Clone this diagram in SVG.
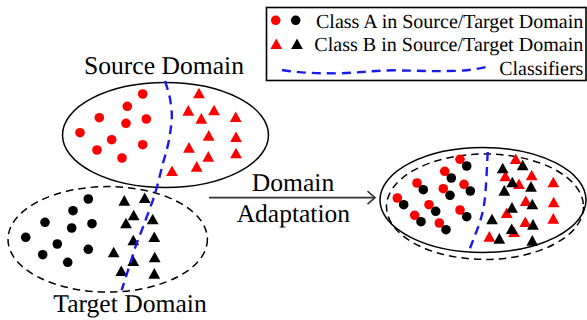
<svg xmlns="http://www.w3.org/2000/svg" width="587" height="320" viewBox="0 0 587 320">
<style>
text{font-family:"Liberation Serif","Times New Roman",serif;fill:#000;text-rendering:geometricPrecision}
.big{font-size:25.5px}.leg{font-size:20px}
.ell{fill:none;stroke:#000;stroke-width:1.5}
.dash{stroke-dasharray:7.5 5}
.clf{fill:none;stroke:#1a1aee;stroke-width:2.4;stroke-dasharray:9 6}
.r{fill:#f00}.k{fill:#000}
</style>
<defs>
<circle id="c" r="4.8"/>
<path id="t" d="M0-5.6L5.9 5H-5.9Z"/>
<marker id="arr" markerWidth="12" markerHeight="18" refX="9" refY="8" orient="auto" markerUnits="userSpaceOnUse"><path d="M1.5 1.5L9 8L1.5 14.5" fill="none" stroke="#333" stroke-width="1.6"/></marker>
</defs>
<g id="source-domain">
<ellipse class="ell" cx="165.5" cy="135" rx="103" ry="52.5"/>
<g class="r"><use href="#c" x="142.7" y="94"/><use href="#c" x="127.3" y="106.3"/><use href="#c" x="99.3" y="117.7"/><use href="#c" x="126" y="123.3"/><use href="#c" x="146.3" y="119"/><use href="#c" x="80" y="132.7"/><use href="#c" x="111.7" y="139.7"/><use href="#c" x="97" y="150"/><use href="#c" x="142.7" y="144.7"/><use href="#c" x="122" y="158"/>
<use href="#t" x="199" y="93.3"/><use href="#t" x="188.3" y="110.7"/><use href="#t" x="214" y="110.3"/><use href="#t" x="201.3" y="118.7"/><use href="#t" x="235.7" y="117"/><use href="#t" x="208.7" y="135.7"/><use href="#t" x="236" y="137"/><use href="#t" x="189" y="147.7"/><use href="#t" x="208.3" y="156.7"/><use href="#t" x="236" y="153.3"/><use href="#t" x="196.7" y="166.7"/><use href="#t" x="172" y="171"/></g>
<text class="big" x="84" y="74" textLength="160" lengthAdjust="spacingAndGlyphs">Source Domain</text>
</g>
<g id="target-domain">
<ellipse class="ell dash" cx="107.7" cy="239.3" rx="99.7" ry="52.7"/>
<g class="k"><use href="#c" x="88.3" y="199"/><use href="#c" x="73" y="210.7"/><use href="#c" x="45" y="222.3"/><use href="#c" x="71.7" y="228"/><use href="#c" x="92" y="223.7"/><use href="#c" x="25.7" y="237.3"/><use href="#c" x="57.3" y="244"/><use href="#c" x="42.7" y="254.7"/><use href="#c" x="88.3" y="249.3"/><use href="#c" x="67.7" y="262.3"/>
<use href="#t" x="124.3" y="200.7"/><use href="#t" x="144.7" y="198"/><use href="#t" x="133.7" y="215.3"/><use href="#t" x="152.7" y="219.3"/><use href="#t" x="126" y="223.3"/><use href="#t" x="133.3" y="240.3"/><use href="#t" x="154.3" y="237"/><use href="#t" x="113.7" y="252.3"/><use href="#t" x="133.3" y="261"/><use href="#t" x="154.7" y="257.3"/><use href="#t" x="121.3" y="271"/><use href="#t" x="154.3" y="273.7"/></g>
<text class="big" x="53.3" y="311.7" textLength="153.4" lengthAdjust="spacingAndGlyphs">Target Domain</text>
</g>
<g id="adapted-domain">
<ellipse class="ell" cx="483" cy="200" rx="103" ry="52.5"/>
<ellipse class="ell dash" cx="485" cy="206.7" rx="98.5" ry="52.7"/>
<g class="r"><use href="#c" x="460" y="159.3"/><use href="#c" x="444.7" y="171.3"/><use href="#c" x="417" y="183"/><use href="#c" x="443.3" y="188.7"/><use href="#c" x="464" y="184.3"/><use href="#c" x="397.3" y="198"/><use href="#c" x="429" y="204.7"/><use href="#c" x="414.7" y="215.3"/><use href="#c" x="460" y="210"/><use href="#c" x="439.3" y="223"/>
<use href="#t" x="515.7" y="159"/><use href="#t" x="505.3" y="176.3"/><use href="#t" x="531.7" y="175.3"/><use href="#t" x="519" y="184"/><use href="#t" x="553.3" y="182.3"/><use href="#t" x="525.7" y="201"/><use href="#t" x="553.7" y="202.3"/><use href="#t" x="506.7" y="213"/><use href="#t" x="553.3" y="218.7"/><use href="#t" x="525.3" y="222"/><use href="#t" x="489.3" y="236.7"/><use href="#t" x="514" y="232"/></g>
<g class="k"><use href="#c" x="466.7" y="166"/><use href="#c" x="451.3" y="178"/><use href="#c" x="423.3" y="189.7"/><use href="#c" x="450" y="195.3"/><use href="#c" x="470.3" y="191"/><use href="#c" x="403.7" y="204.7"/><use href="#c" x="435.7" y="211.3"/><use href="#c" x="421" y="221.7"/><use href="#c" x="466.7" y="216.7"/><use href="#c" x="446" y="229.7"/>
<use href="#t" x="502.7" y="168.3"/><use href="#t" x="522.7" y="165.3"/><use href="#t" x="512.3" y="182.3"/><use href="#t" x="531" y="186.7"/><use href="#t" x="504.3" y="190.7"/><use href="#t" x="512" y="207.7"/><use href="#t" x="532.3" y="204.3"/><use href="#t" x="492" y="219.3"/><use href="#t" x="511.7" y="229"/><use href="#t" x="533" y="224.7"/><use href="#t" x="499.3" y="238.7"/><use href="#t" x="532.3" y="240.7"/></g>
</g>
<g id="legend">
<rect x="266.5" y="7.5" width="319.5" height="73" fill="none" stroke="#000" stroke-width="1.6"/>
<use href="#c" class="r" x="275.7" y="20.3"/><use href="#c" class="k" x="295.7" y="20.3"/>
<use href="#t" class="r" x="276.3" y="44"/><use href="#t" class="k" x="297" y="44"/>
<text class="leg" x="316" y="28" textLength="267.3" lengthAdjust="spacingAndGlyphs">Class A in Source/Target Domain</text>
<text class="leg" x="314.3" y="50.7" textLength="269" lengthAdjust="spacingAndGlyphs">Class B in Source/Target Domain</text>
<text class="leg" x="499.3" y="75" textLength="84" lengthAdjust="spacingAndGlyphs">Classifiers</text>
</g>
<g id="connectors">
<path class="clf" d="M165 81C168 90 170 97 170.7 103C172 112 172 116 171.7 120C171 128 170 134 169 140C167 150 165 156 163 163L157 187L153 200L143 227L135 248L125 280L121.7 290"/>
<path class="clf" d="M487.7 152L486.7 173C486 185 485.5 195 484.3 203C483 212 481 219 478.3 226.7L470 248.3"/>
<path class="clf" d="M282 70C300 73 320 73.5 340 73.3C360 72.5 375 70.5 393 70.3C415 70.5 430 71.5 446.7 71C462 71 475 70 486.7 66.7"/>
<path d="M209 197.7H375" fill="none" stroke="#333" stroke-width="1.8" marker-end="url(#arr)"/>
<text class="big" x="251.7" y="190.7" textLength="82.5" lengthAdjust="spacingAndGlyphs">Domain</text>
<text class="big" x="236.7" y="221.7" textLength="113.3" lengthAdjust="spacingAndGlyphs">Adaptation</text>
</g>
</svg>
